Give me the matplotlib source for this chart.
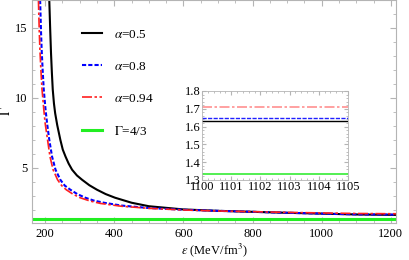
import numpy as np
import matplotlib
matplotlib.use("Agg")
import matplotlib.pyplot as plt
from matplotlib.ticker import MultipleLocator

plt.rcParams['font.family'] = ['Liberation Serif', 'DejaVu Serif']
plt.rcParams['mathtext.fontset'] = 'stix'

# values
eps_black = [212, 214.5, 217, 219.5, 222, 225.5, 229, 235, 244, 251, 259, 268, 278, 292, 307, 328, 350, 375, 402, 450, 500,
             600, 700, 800, 900, 1000, 1100, 1215]
gam_black = [17.0, 15.0, 13.2, 11.8, 10.6, 9.6, 8.9, 8.05, 7.0, 6.3, 5.8, 5.3, 4.86, 4.45, 4.14, 3.75, 3.43, 3.12, 2.86, 2.5, 2.25,
             2.02, 1.92, 1.85, 1.78, 1.72, 1.66, 1.63]

eps_blue = [185.5, 188, 190, 193, 196, 201, 206, 212, 220, 230, 244, 257, 273, 293, 316, 340, 370, 420, 500,
            600, 700, 800, 900, 1000, 1100, 1215]
gam_blue = [17.0, 14.8, 13.4, 11.9, 10.6, 9.2, 8.1, 7.0, 5.8, 4.86, 4.14, 3.72, 3.43, 3.12, 2.86, 2.66, 2.5, 2.3, 2.12,
            2.0, 1.92, 1.85, 1.78, 1.72, 1.67, 1.65]

eps_red = [180.6, 183, 185, 188, 191, 196, 200, 207, 214, 223, 236, 248, 261, 280, 301, 330, 360, 420, 500,
           600, 700, 800, 900, 1000, 1100, 1215]
gam_red = [17.0, 14.8, 13.4, 11.9, 10.6, 9.2, 8.2, 7.0, 5.8, 4.86, 4.14, 3.72, 3.43, 3.12, 2.86, 2.62, 2.45, 2.25, 2.1,
           1.98, 1.91, 1.86, 1.81, 1.77, 1.73, 1.71]

gam_green = 4 / 3

# zoomed values (inset)
inset_eps = [1100, 1105]
inset_black = 1.63
inset_blue = 1.65
inset_red = 1.71

frame_col = '#b4b4b4'

fig = plt.figure(figsize=(4.09, 2.6), dpi=100)
ax = fig.add_axes([32/409, 37/260, 364/409, 223/260])

ax.plot(eps_black, gam_black, color='black', lw=1.5, label=r'$\alpha$=0.5')
ax.plot(eps_blue, gam_blue, color='#0000ff', lw=1.5, ls=(0, (2, 1)), label=r'$\alpha$=0.8')
ax.plot(eps_red, gam_red, color='#ff2020', lw=1.2, ls=(0, (6, 1.5, 1.5, 1.5)), label=r'$\alpha$=0.94')
ax.axhline(gam_green, color='#22ee22', lw=2.2, label=r'$\Gamma$=4/3')

ax.set_xlim(162, 1215)
ax.set_ylim(1.05, 17)
ax.xaxis.set_major_locator(MultipleLocator(200))
ax.xaxis.set_minor_locator(MultipleLocator(50))
ax.yaxis.set_major_locator(MultipleLocator(5))
ax.yaxis.set_minor_locator(MultipleLocator(1))
for s in ax.spines.values():
    s.set_color(frame_col)
    s.set_linewidth(0.8)
ax.tick_params(which='both', direction='in', color=frame_col, labelsize=9, top=True, right=True)
ax.tick_params(which='major', length=4)
ax.tick_params(which='minor', length=2)
ax.set_xlabel(r'$\epsilon$ (MeV/fm$^3$)', fontsize=9, labelpad=1)
ax.set_ylabel(r'$\Gamma$', fontsize=10, labelpad=1)

leg = ax.legend(loc='upper left', bbox_to_anchor=(0.105, 0.925), frameon=False,
                fontsize=9.5, handlelength=1.5, handletextpad=0.9, labelspacing=1.5)

# inset
axi = fig.add_axes([202/409, 80/260, 146/409, 89/260])
axi.plot(inset_eps, [inset_red] * 2, color='#ff9090', lw=1.2, ls=(0, (6, 1.5, 1.5, 1.5)))
axi.plot(inset_eps, [inset_blue] * 2, color='#2020ff', lw=1.0, ls=(0, (3, 1)))
axi.plot(inset_eps, [inset_black] * 2, color='black', lw=1.0)
axi.plot(inset_eps, [gam_green] * 2, color='#44ee44', lw=1.3)
axi.set_xlim(1100, 1105)
axi.set_ylim(1.3, 1.8)
axi.xaxis.set_major_locator(MultipleLocator(1))
axi.xaxis.set_minor_locator(MultipleLocator(0.2))
axi.yaxis.set_major_locator(MultipleLocator(0.1))
axi.yaxis.set_minor_locator(MultipleLocator(0.02))
for s in axi.spines.values():
    s.set_color(frame_col)
    s.set_linewidth(0.6)
    s.set_linestyle((0, (1, 1)))
axi.tick_params(which='both', direction='in', color=frame_col, labelsize=9, top=True, right=True, pad=1)
axi.tick_params(which='major', length=3)
axi.tick_params(which='minor', length=1.5)
axi.yaxis.set_major_formatter(plt.FormatStrFormatter('%.1f'))

fig.savefig('out.png', dpi=100)
